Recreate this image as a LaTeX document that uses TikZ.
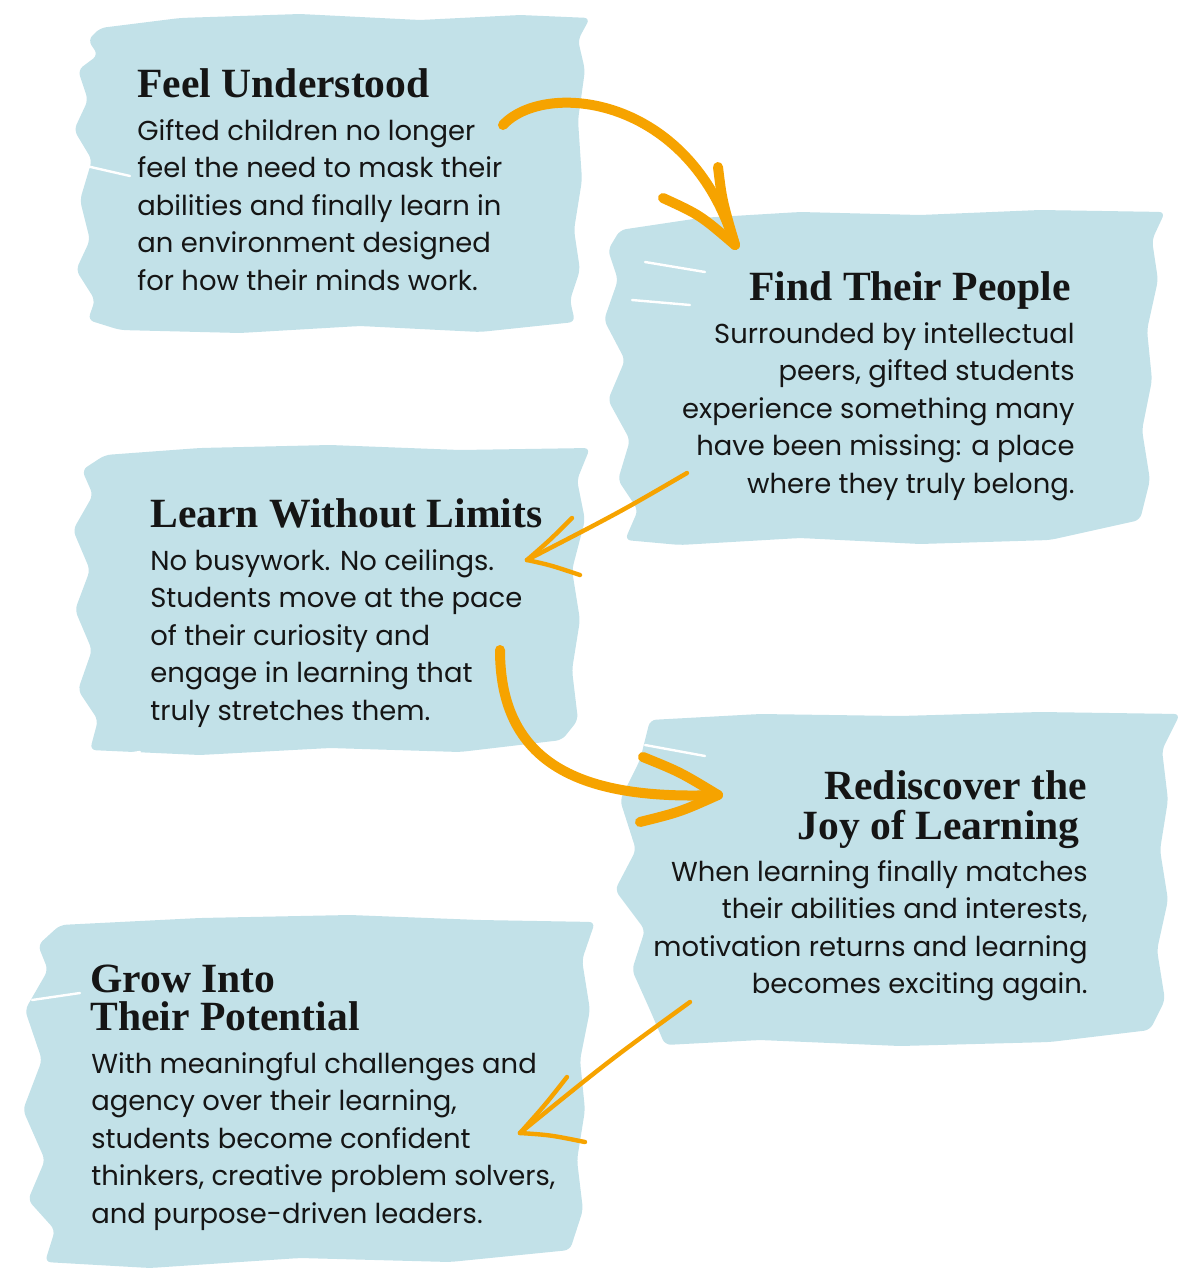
\documentclass[tikz,border=0pt]{standalone}
\usepackage{xcolor}
\usepackage{fontspec}
\usepackage{tikz}
\usetikzlibrary{positioning,calc}
\newfontfamily\headfont{Liberation Serif}
\newfontfamily\bodyfont{Poppins}
\definecolor{washblue}{HTML}{C2E1E8}
\definecolor{arroworange}{HTML}{F6A300}
\definecolor{inkblack}{HTML}{151515}

\begin{document}
\begin{tikzpicture}[x=0.5pt, y=-0.5pt,
  brush/.style={fill=washblue, draw=none, rounded corners=3pt},
  streak/.style={draw=white, line width=1.2pt, line cap=round},
  heading/.style={inner sep=0pt, text=inkblack, font=\headfont\bfseries\fontsize{20.8}{20}\selectfont},
  body/.style={inner sep=0pt, text=inkblack, font=\bodyfont\fontsize{13.7}{18.75}\selectfont},
  thickarrow/.style={draw=arroworange, line width=5pt, line cap=round, line join=round},
  thinarrow/.style={draw=arroworange, line width=2.2pt, line cap=round, line join=round}]
\useasboundingbox (0,0) rectangle (1200,1280);

% Brush strokes
\path[brush] (100,28) -- (180,18) -- (300,14) -- (420,20) -- (520,15) -- (590,18) -- (578,40) -- (585,70) -- (578,120) -- (582,180) -- (574,230) -- (580,270) -- (570,300) -- (575,322) -- (480,332) -- (360,326) -- (240,333) -- (120,330) -- (88,320) -- (95,300) -- (76,270) -- (90,240) -- (80,200) -- (92,160) -- (74,130) -- (88,100) -- (78,70) -- (98,55) -- (88,40) -- cycle;
\path[brush] (620,230) -- (700,218) -- (800,212) -- (920,215) -- (1040,210) -- (1165,212) -- (1152,240) -- (1158,280) -- (1147,330) -- (1152,380) -- (1142,430) -- (1150,480) -- (1140,520) -- (1050,540) -- (920,544) -- (800,538) -- (680,545) -- (625,540) -- (638,510) -- (618,480) -- (630,440) -- (608,400) -- (625,360) -- (604,320) -- (618,280) -- (608,250) -- cycle;
\path[brush] (105,455) -- (200,448) -- (330,445) -- (460,450) -- (590,448) -- (577,480) -- (585,520) -- (572,570) -- (580,620) -- (572,670) -- (578,720) -- (562,740) -- (460,752) -- (330,748) -- (200,755) -- (90,750) -- (98,720) -- (78,690) -- (92,650) -- (75,610) -- (90,570) -- (73,530) -- (93,495) -- (82,470) -- cycle;
\path[brush] (650,720) -- (760,714) -- (900,716) -- (1040,712) -- (1180,714) -- (1162,750) -- (1168,800) -- (1160,850) -- (1168,900) -- (1157,950) -- (1165,1000) -- (1150,1030) -- (1050,1042) -- (900,1046) -- (760,1040) -- (665,1045) -- (650,1010) -- (632,970) -- (645,930) -- (615,890) -- (636,850) -- (620,800) -- (640,760) -- cycle;
\path[brush] (60,925) -- (200,918) -- (350,915) -- (480,920) -- (595,922) -- (582,960) -- (590,1010) -- (580,1060) -- (585,1110) -- (577,1160) -- (583,1210) -- (570,1250) -- (450,1262) -- (300,1258) -- (150,1268) -- (45,1262) -- (55,1230) -- (28,1200) -- (45,1160) -- (23,1110) -- (42,1060) -- (25,1010) -- (48,970) -- (38,945) -- cycle;

% Streaks
\draw[streak] (82,165) -- (130,176);
\draw[streak] (645,262) -- (705,272);
\draw[streak] (632,300) -- (690,305);
\draw[streak] (88,760) -- (140,752);
\draw[streak] (645,745) -- (705,756);
\draw[streak] (32,1000) -- (80,993);

% Headings
\node[heading, anchor=base west] (H1) at (137,97) {Feel Understood};
\node[heading, anchor=base east] (H2) at (1071,300) {Find Their People};
\node[heading, anchor=base west] (H3) at (150,527) {Learn Without Limits};
\node[heading, anchor=base east] (H4a) at (1087,799) {Rediscover the};
\node[heading, anchor=base east] (H4b) at (1080,839) {Joy of Learning};
\node[heading, anchor=base west] (H5a) at (90,992) {Grow Into};
\node[heading, anchor=base west] (H5b) at (90,1030) {Their Potential};

% Body text
\node[body, anchor=north west, align=left] (B1) at (137,119) {Gifted children no longer\\feel the need to mask their\\abilities and finally learn in\\an environment designed\\for how their minds work.};
\node[body, anchor=north east, align=right] (B2) at (1075,322) {Surrounded by intellectual\\peers, gifted students\\experience something many\\have been missing: a place\\where they truly belong.};
\node[body, anchor=north west, align=left] (B3) at (150,549) {No busywork. No ceilings.\\Students move at the pace\\of their curiosity and\\engage in learning that\\truly stretches them.};
\node[body, anchor=north east, align=right] (B4) at (1088,860) {When learning finally matches\\their abilities and interests,\\motivation returns and learning\\becomes exciting again.};
\node[body, anchor=north west, align=left] (B5) at (91,1052) {With meaningful challenges and\\agency over their learning,\\students become confident\\thinkers, creative problem solvers,\\and purpose-driven leaders.};

% Arrow ends
\coordinate (a1s) at (503,125);
\coordinate (a1e) at (735,245);
\coordinate (a2s) at (687,473);
\coordinate (a2e) at (527,560);
\coordinate (a3s) at (500,650);
\coordinate (a3e) at (718,795);
\coordinate (a4s) at (690,1002);
\coordinate (a4e) at (520,1133);

% Arrows
\draw[thickarrow] (a1s) .. controls (545,80) and (690,95) .. (a1e);
\draw[thickarrow] (718,167) .. controls (722,200) .. (a1e);
\draw[thickarrow] (663,198) .. controls (700,215) .. (a1e);

\draw[thinarrow] (a2s) .. controls (620,512) .. (a2e);
\draw[thinarrow] (572,518) .. controls (550,540) .. (a2e);
\draw[thinarrow] (580,575) .. controls (550,565) .. (a2e);

\draw[thickarrow] (a3s) .. controls (500,770) and (590,800) .. (a3e);
\draw[thickarrow] (643,757) .. controls (680,772) .. (a3e);
\draw[thickarrow] (640,822) .. controls (680,812) .. (a3e);

\draw[thinarrow] (a4s) .. controls (610,1060) .. (a4e);
\draw[thinarrow] (567,1077) .. controls (545,1105) .. (a4e);
\draw[thinarrow] (585,1142) .. controls (550,1135) .. (a4e);
\end{tikzpicture}
\end{document}
